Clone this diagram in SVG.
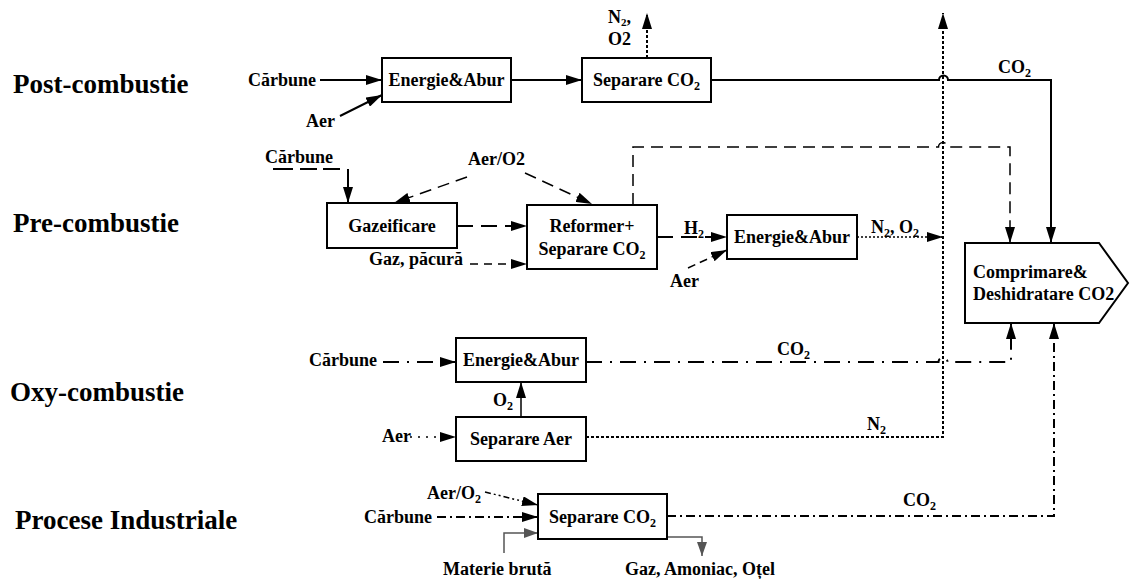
<svg xmlns="http://www.w3.org/2000/svg" width="1130" height="579" viewBox="0 0 1130 579">
<style>
text{font-family:"Liberation Serif","Times New Roman",serif;font-weight:bold;font-size:18px;fill:#000}
.sec{font-size:27px}
.c{text-anchor:middle}
.box{fill:#fff;stroke:#000;stroke-width:2}
.ln{fill:none;stroke:#000;stroke-width:2}
.dash{stroke-dasharray:12,7}
.ldash{stroke-dasharray:16,8}
.dot{stroke-dasharray:3,2}
.fdot{stroke-width:1.5;stroke-dasharray:2,2}
.sdot{stroke-width:1.5;stroke-dasharray:2,6}
.dd{stroke-dasharray:16,8,2,8}
.ddi{stroke-dasharray:9,4,2,4}
.ddd{stroke-width:1.5;stroke-dasharray:6,3,2,3,2,3}
.gray{stroke:#555}
</style>
<defs>
<marker id="ah" markerUnits="userSpaceOnUse" markerWidth="16" markerHeight="10" refX="16" refY="5" orient="auto"><path d="M0,0 L16,5 L0,10 z" fill="#000"/></marker>
<marker id="ahg" markerUnits="userSpaceOnUse" markerWidth="14" markerHeight="10" refX="14" refY="5" orient="auto"><path d="M0,0 L14,5 L0,10 z" fill="#555"/></marker>
</defs>

<g id="section-labels">
<text class="sec" x="13" y="93">Post-combustie</text>
<text class="sec" x="13" y="232">Pre-combustie</text>
<text class="sec" x="10" y="401">Oxy-combustie</text>
<text class="sec" x="15" y="529">Procese Industriale</text>
</g>

<g id="connectors">
<path class="ln" d="M320,80 H382" marker-end="url(#ah)"/>
<path class="ln" d="M340,116 L382,95" marker-end="url(#ah)"/>
<path class="ln" d="M511,80 H582" marker-end="url(#ah)"/>
<path class="ln dot" d="M647,58 V13" marker-end="url(#ah)"/>
<path class="ln" d="M711,80 H939 a4.5,4.5 0 0 1 9,0 H1051 V243" marker-end="url(#ah)"/>
<path class="ln dot" d="M586,437 H943 V13" marker-end="url(#ah)"/>

<path class="ln" style="stroke-dasharray:20,7,17,6,17,8,40" d="M273,169 H348 V203" marker-end="url(#ah)"/>
<path class="ln dash" style="stroke-width:1.5" d="M467,177 L394,203" marker-end="url(#ah)"/>
<path class="ln dash" style="stroke-width:1.5" d="M525,173 L592,204" marker-end="url(#ah)"/>
<path class="ln ldash" d="M457,226 H527" marker-end="url(#ah)"/>
<path class="ln dash" style="stroke-width:1.5;stroke-dasharray:8,6" d="M470,264 H527" marker-end="url(#ah)"/>
<path class="ln dash" style="stroke-width:1.5" d="M633,205 V147 H938.5 a4.5,4.5 0 0 1 9,0 H1010 V243" marker-end="url(#ah)"/>
<path class="ln ldash" d="M657,237 H727" marker-end="url(#ah)"/>
<path class="ln dash" style="stroke-width:1.5;stroke-dasharray:8,5" d="M688,268 L727,250" marker-end="url(#ah)"/>
<path class="ln fdot" d="M857,237 H943" marker-end="url(#ah)"/>

<path class="ln dd" d="M383,362 H456" marker-end="url(#ah)"/>
<path class="ln" style="stroke-width:1.5" d="M521,417 V382" marker-end="url(#ah)"/>
<path class="ln sdot" d="M410,437 H456" marker-end="url(#ah)"/>
<path class="ln dd" d="M586,362 H938.5 a4.5,4.5 0 0 1 9,0 H1011 V323" marker-end="url(#ah)"/>

<path class="ln ddd" d="M485,492 L538,505" marker-end="url(#ah)"/>
<path class="ln ddi" d="M437,517 H538" marker-end="url(#ah)"/>
<path class="ln gray" style="stroke-width:1.5" d="M504,553 V533 H538" marker-end="url(#ahg)"/>
<path class="ln gray" style="stroke-width:1.5" d="M667,537 H702 V556" marker-end="url(#ahg)"/>
<path class="ln ddi" d="M667,516 H1054 V323" marker-end="url(#ah)"/>
</g>

<g id="connector-labels">
<text x="248" y="86">Cărbune</text>
<text x="306" y="127">Aer</text>
<text x="608" y="23">N<tspan font-size="11" dy="3">2</tspan><tspan dy="-3">,</tspan></text>
<text x="608" y="45">O2</text>
<text x="998" y="73">CO<tspan font-size="12" dy="4">2</tspan></text>
<text x="265" y="163">Cărbune</text>
<text x="468" y="165">Aer/O2</text>
<text x="369" y="265">Gaz, păcură</text>
<text x="684" y="234">H<tspan font-size="12" dy="4">2</tspan></text>
<text x="670" y="287">Aer</text>
<text x="871" y="233">N<tspan font-size="12" dy="4">2</tspan><tspan dy="-4">, O</tspan><tspan font-size="12" dy="4">2</tspan></text>
<text x="309" y="366">Cărbune</text>
<text x="777" y="355">CO<tspan font-size="12" dy="4">2</tspan></text>
<text x="493" y="406">O<tspan font-size="12" dy="4">2</tspan></text>
<text x="382" y="442">Aer</text>
<text x="867" y="430">N<tspan font-size="12" dy="4">2</tspan></text>
<text x="427" y="499">Aer/O<tspan font-size="12" dy="4">2</tspan></text>
<text x="364" y="523">Cărbune</text>
<text x="903" y="506">CO<tspan font-size="12" dy="4">2</tspan></text>
<text x="443" y="575">Materie brută</text>
<text x="625" y="575">Gaz, Amoniac, Oțel</text>
</g>

<g id="post-energie">
<rect class="box" x="382" y="58" width="129" height="44"/>
<text class="c" x="446.5" y="86">Energie&amp;Abur</text>
</g>
<g id="post-separare">
<rect class="box" x="582" y="58" width="129" height="44"/>
<text class="c" x="646.5" y="86">Separare CO<tspan font-size="12" dy="4">2</tspan></text>
</g>
<g id="pre-gazeificare">
<rect class="box" x="327" y="203" width="130" height="45"/>
<text class="c" x="392" y="232">Gazeificare</text>
</g>
<g id="pre-reformer">
<rect class="box" x="527" y="205" width="130" height="64"/>
<text class="c" x="592" y="232">Reformer+</text>
<text class="c" x="592" y="255">Separare CO<tspan font-size="12" dy="4">2</tspan></text>
</g>
<g id="pre-energie">
<rect class="box" x="727" y="215" width="130" height="44"/>
<text class="c" x="792" y="243">Energie&amp;Abur</text>
</g>
<g id="comprimare">
<path class="box" d="M965,243 H1099 L1128,283 L1099,323 H965 Z"/>
<text x="973" y="278">Comprimare&amp;</text>
<text x="973" y="300">Deshidratare CO2</text>
</g>
<g id="oxy-energie">
<rect class="box" x="456" y="338" width="130" height="44"/>
<text class="c" x="521" y="366">Energie&amp;Abur</text>
</g>
<g id="oxy-separare-aer">
<rect class="box" x="456" y="417" width="130" height="44"/>
<text class="c" x="521" y="445">Separare Aer</text>
</g>
<g id="ind-separare">
<rect class="box" x="538" y="494" width="129" height="45"/>
<text class="c" x="602.5" y="523">Separare CO<tspan font-size="12" dy="4">2</tspan></text>
</g>
</svg>
